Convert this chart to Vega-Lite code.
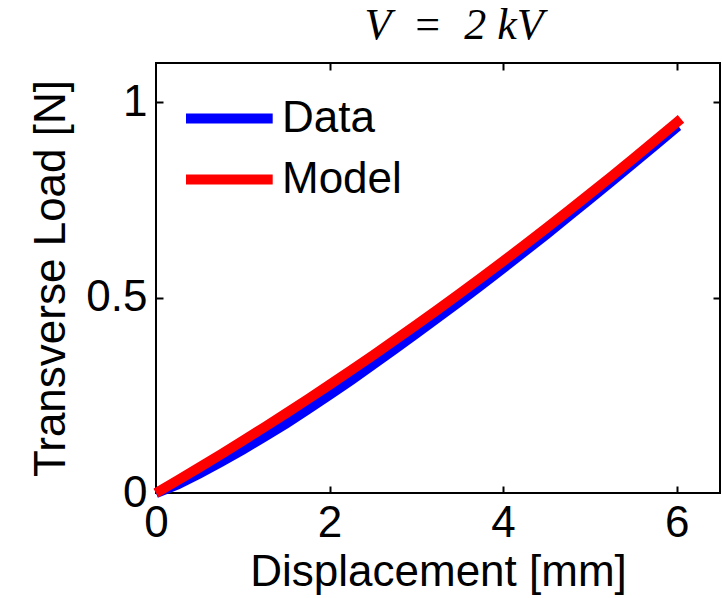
{
  "$schema": "https://vega.github.io/schema/vega-lite/v6.json",
  "width": 564,
  "height": 430,
  "autosize": "none",
  "padding": {"left": 156, "top": 63, "right": 3, "bottom": 105},
  "background": "white",
  "title": {"text": "V \u00a0= \u00a02 kV", "font": "Liberation Serif", "fontStyle": "italic", "fontSize": 44, "fontWeight": "normal", "color": "black", "anchor": "middle", "offset": 14, "dx": 16},
  "config": {
    "view": {"stroke": "black", "strokeWidth": 2},
    "axis": {"grid": false, "domain": false, "tickColor": "black", "tickWidth": 2, "labelFont": "Liberation Sans", "labelFontSize": 44, "labelColor": "black", "titleFont": "Liberation Sans", "titleFontSize": 44, "titleFontWeight": "normal", "titleColor": "black"}
  },
  "data": {"values": [
    {"x": 0, "y": 0, "series": "Data"},
    {"x": 0.25, "y": 0.022, "series": "Data"},
    {"x": 0.5, "y": 0.050, "series": "Data"},
    {"x": 0.75, "y": 0.080, "series": "Data"},
    {"x": 1.0, "y": 0.111, "series": "Data"},
    {"x": 1.25, "y": 0.144, "series": "Data"},
    {"x": 1.5, "y": 0.178, "series": "Data"},
    {"x": 1.75, "y": 0.214, "series": "Data"},
    {"x": 2.0, "y": 0.251, "series": "Data"},
    {"x": 2.25, "y": 0.289, "series": "Data"},
    {"x": 2.5, "y": 0.328, "series": "Data"},
    {"x": 2.75, "y": 0.368, "series": "Data"},
    {"x": 3.0, "y": 0.408, "series": "Data"},
    {"x": 3.25, "y": 0.449, "series": "Data"},
    {"x": 3.5, "y": 0.490, "series": "Data"},
    {"x": 3.75, "y": 0.532, "series": "Data"},
    {"x": 4.0, "y": 0.575, "series": "Data"},
    {"x": 4.25, "y": 0.618, "series": "Data"},
    {"x": 4.5, "y": 0.662, "series": "Data"},
    {"x": 4.75, "y": 0.707, "series": "Data"},
    {"x": 5.0, "y": 0.752, "series": "Data"},
    {"x": 5.25, "y": 0.797, "series": "Data"},
    {"x": 5.5, "y": 0.843, "series": "Data"},
    {"x": 5.75, "y": 0.889, "series": "Data"},
    {"x": 6.0, "y": 0.936, "series": "Data"},
    {"x": 6.02, "y": 0.939, "series": "Data"},
    {"x": 0, "y": 0, "series": "Model"},
    {"x": 0.25, "y": 0.0325, "series": "Model"},
    {"x": 0.5, "y": 0.0656, "series": "Model"},
    {"x": 0.75, "y": 0.0992, "series": "Model"},
    {"x": 1.0, "y": 0.1336, "series": "Model"},
    {"x": 1.25, "y": 0.1685, "series": "Model"},
    {"x": 1.5, "y": 0.2041, "series": "Model"},
    {"x": 1.75, "y": 0.2401, "series": "Model"},
    {"x": 2.0, "y": 0.2769, "series": "Model"},
    {"x": 2.25, "y": 0.3143, "series": "Model"},
    {"x": 2.5, "y": 0.3523, "series": "Model"},
    {"x": 2.75, "y": 0.3908, "series": "Model"},
    {"x": 3.0, "y": 0.4300, "series": "Model"},
    {"x": 3.25, "y": 0.4698, "series": "Model"},
    {"x": 3.5, "y": 0.5103, "series": "Model"},
    {"x": 3.75, "y": 0.5512, "series": "Model"},
    {"x": 4.0, "y": 0.5929, "series": "Model"},
    {"x": 4.25, "y": 0.6351, "series": "Model"},
    {"x": 4.5, "y": 0.6780, "series": "Model"},
    {"x": 4.75, "y": 0.7214, "series": "Model"},
    {"x": 5.0, "y": 0.7655, "series": "Model"},
    {"x": 5.25, "y": 0.8102, "series": "Model"},
    {"x": 5.5, "y": 0.8555, "series": "Model"},
    {"x": 5.75, "y": 0.9013, "series": "Model"},
    {"x": 6.0, "y": 0.9479, "series": "Model"},
    {"x": 6.05, "y": 0.9572, "series": "Model"}
  ]},
  "layer": [
    {
      "mark": {"type": "line", "strokeWidth": 10},
      "encoding": {
        "x": {"field": "x", "type": "quantitative", "scale": {"domain": [0, 6.5], "nice": false, "zero": false},
              "axis": {"orient": "bottom", "values": [0, 2, 4, 6], "tickSize": -7, "labelPadding": 15, "labelFlush": false, "title": "Displacement [mm]", "titlePadding": 5}},
        "y": {"field": "y", "type": "quantitative", "scale": {"domain": [0, 1.1], "nice": false, "zero": false},
              "axis": {"orient": "left", "values": [0, 0.5, 1], "tickSize": -7, "labelPadding": 16, "labelFlush": false, "labelExpr": "format(datum.value, '~g')", "title": "Transverse Load [N]", "titlePadding": 12}},
        "color": {"field": "series", "type": "nominal",
                  "scale": {"domain": ["Data", "Model"], "range": ["#0000ff", "#ff0000"]},
                  "legend": {"orient": "top-left", "offset": 25, "padding": 0, "title": null, "symbolType": "M-1,0H2.4", "symbolSize": 2601, "symbolStrokeWidth": 10, "symbolFillColor": "transparent", "labelFont": "Liberation Sans", "labelFontSize": 44, "labelColor": "black", "labelOffset": 40, "rowPadding": 8}}
      }
    },
    {
      "mark": {"type": "line", "opacity": 0},
      "encoding": {
        "x": {"field": "x", "type": "quantitative", "axis": {"orient": "top", "values": [2, 4, 6], "tickSize": -7, "labels": false, "title": null}},
        "y": {"field": "y", "type": "quantitative", "axis": {"orient": "right", "values": [0.5, 1], "tickSize": -7, "labels": false, "title": null}},
        "detail": {"field": "series", "type": "nominal"}
      }
    }
  ],
  "resolve": {"axis": {"x": "independent", "y": "independent"}}
}
